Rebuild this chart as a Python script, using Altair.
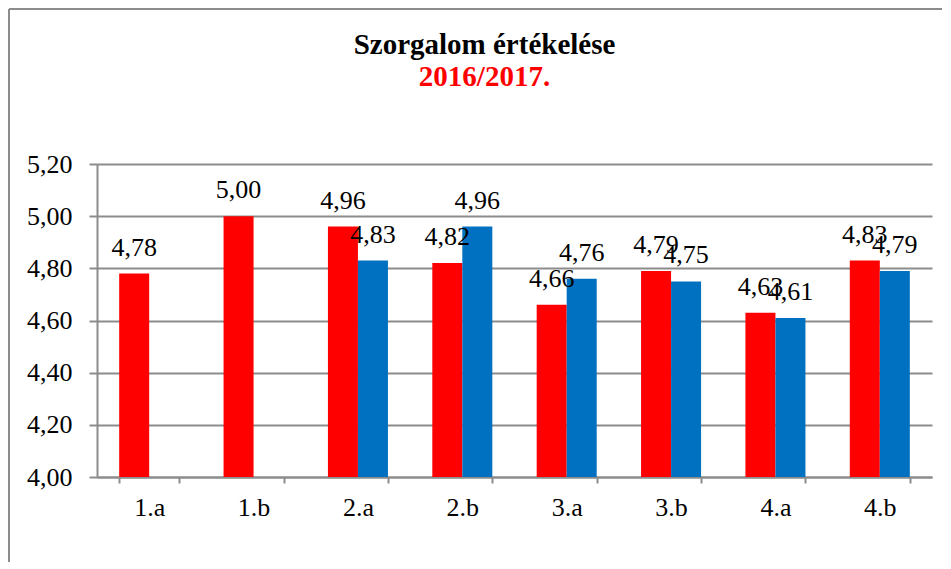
import altair as alt
import pandas as pd

classes = ["1.a", "1.b", "2.a", "2.b", "3.a", "3.b", "4.a", "4.b"]
series_names = ["1. félév", "2. félév"]
red_values = [4.78, 5.00, 4.96, 4.82, 4.66, 4.79, 4.63, 4.83]
blue_classes = ["2.a", "2.b", "3.a", "3.b", "4.a", "4.b"]
blue_values = [4.83, 4.96, 4.76, 4.75, 4.61, 4.79]
y_ticks = [4.0, 4.2, 4.4, 4.6, 4.8, 5.0, 5.2]
colors = ["#FF0000", "#0070C0"]

rows = [{"osztaly": c, "sorozat": series_names[0], "ertek": v} for c, v in zip(classes, red_values)]
rows += [{"osztaly": c, "sorozat": series_names[1], "ertek": v} for c, v in zip(blue_classes, blue_values)]
df = pd.DataFrame(rows)

FONT = "Liberation Serif"
GRID = "#8C8C8C"
FS = 26

x_enc = alt.X("osztaly:N", sort=classes,
              scale=alt.Scale(paddingInner=0.425, paddingOuter=0.2125),
              axis=alt.Axis(title=None, labelAngle=0, labelFont=FONT, labelFontSize=FS,
                            labelColor="black", labelPadding=11, grid=False,
                            tickBand="extent", tickSize=6, tickColor=GRID, tickWidth=2,
                            domainColor=GRID, domainWidth=2))
xo_enc = alt.XOffset("sorozat:N", sort=series_names,
                     scale=alt.Scale(domain=series_names, paddingInner=0, paddingOuter=0))
y_scale = alt.Scale(domain=[4.0, 5.2], zero=False, nice=False)

bars = alt.Chart(df).mark_bar().encode(
    x=x_enc,
    xOffset=xo_enc,
    y=alt.Y("ertek:Q", scale=y_scale,
            axis=alt.Axis(title=None, values=y_ticks,
                          labelExpr="replace(format(datum.value, '.2f'), '.', ',')",
                          labelFont=FONT, labelFontSize=FS, labelColor="black",
                          labelPadding=17, tickSize=8, tickColor=GRID, tickWidth=2,
                          domainColor=GRID, domainWidth=2,
                          gridColor=GRID, gridWidth=2, gridOpacity=1)),
    y2=alt.datum(4.0),
    color=alt.Color("sorozat:N", sort=series_names,
                    scale=alt.Scale(domain=series_names, range=colors), legend=None),
)

labels = alt.Chart(df).transform_calculate(
    felirat="replace(format(datum.ertek, '.2f'), '.', ',')"
).mark_text(font=FONT, fontSize=FS, color="black", baseline="alphabetic", dy=-18).encode(
    x=alt.X("osztaly:N", sort=classes),
    xOffset=alt.XOffset("sorozat:N", sort=series_names),
    y=alt.Y("ertek:Q", scale=y_scale),
    text="felirat:N",
)

one = pd.DataFrame({"k": [0]})
frame_left = alt.Chart(one).mark_rule(color="#8C8C8C", strokeWidth=2).encode(
    x=alt.value(-88), y=alt.value(-155), y2=alt.value(420))
frame_top = alt.Chart(one).mark_rule(color="#8C8C8C", strokeWidth=2).encode(
    x=alt.value(-88), x2=alt.value(900), y=alt.value(-155))

chart = alt.layer(bars, labels, frame_left, frame_top).properties(
    width=835, height=313,
    title=alt.TitleParams(text="Szorgalom értékelése", subtitle="2016/2017.",
                          font=FONT, fontSize=29, fontWeight="bold", color="black",
                          subtitleFont=FONT, subtitleFontSize=29, subtitleFontWeight="bold",
                          subtitleColor="#FF0000", subtitlePadding=3,
                          anchor="middle", frame="group", dx=-30, offset=-84),
    autosize=alt.AutoSizeParams(type="none"),
    padding={"left": 89, "top": 156, "right": 10, "bottom": 85},
).configure_view(stroke=None)

chart.save("out.html", embed_options={"renderer": "svg", "actions": False})
